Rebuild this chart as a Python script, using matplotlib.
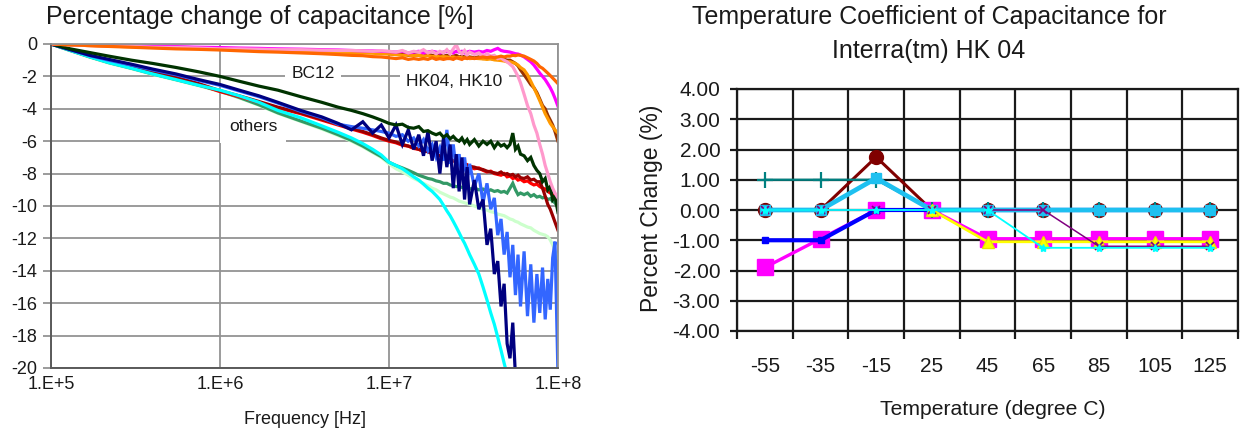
import numpy as np
import matplotlib
matplotlib.use("Agg")
import matplotlib.pyplot as plt
from matplotlib import font_manager as fm
from matplotlib.ticker import FixedLocator, NullLocator, FixedFormatter

nan = np.nan

# ---------------- left chart data ----------------
FREQ_HZ = [1e5, 1.3e5, 1.7e5, 2.2e5, 3e5, 4e5, 5.5e5, 7.5e5, 1e6, 1.3e6,
           1.7e6, 2.2e6, 3e6, 4e6, 5e6, 6e6, 7e6, 8e6, 9e6, 1e7,
           1.1e7, 1.2e7, 1.3e7, 1.4e7, 1.5e7, 1.6e7, 1.7e7, 1.8e7, 1.9e7, 2e7,
           2.1e7, 2.2e7, 2.3e7, 2.4e7, 2.5e7, 2.6e7, 2.7e7, 2.8e7, 2.9e7, 3e7,
           3.2e7, 3.4e7, 3.6e7, 3.8e7, 4e7, 4.2e7, 4.4e7, 4.6e7, 4.8e7, 5e7,
           5.2e7, 5.4e7, 5.6e7, 5.8e7, 6e7, 6.3e7, 6.6e7, 6.9e7, 7.2e7, 7.5e7,
           7.8e7, 8.1e7, 8.4e7, 8.7e7, 9e7, 9.3e7, 9.6e7, 1e8]

LIGHT_GREEN = [0, -0.42, -0.82, -1.18, -1.53, -1.88, -2.23, -2.58, -2.93, -3.33,
               -3.78, -4.28, -4.78, -5.25, -5.65, -6.0, -6.35, -6.7, -7.0, -7.4,
               -7.7, -7.9, -8.1, -8.3, -8.45, -8.6, -8.75, -8.9, -9.0, -9.15,
               -9.25, -9.35, -9.45, -9.5, -9.6, -9.7, -9.75, -9.8, -9.85, -9.9,
               -10.0, -10.1, -10.2, -10.25, -10.35, -10.4, -10.5, -10.55, -10.6, -10.7,
               -10.8, -10.85, -10.95, -11.0, -11.1, -11.2, -11.3, -11.35, -11.5, -11.6,
               -11.7, -11.75, -11.8, -11.9, -12.1, -12.4, -12.8, -13.2]

SEA_GREEN = [0, -0.4, -0.8, -1.15, -1.5, -1.85, -2.2, -2.55, -2.9, -3.3,
             -3.75, -4.25, -4.75, -5.2, -5.6, -5.95, -6.3, -6.65, -6.95, -7.3,
             -7.5, -7.65, -7.8, -7.95, -8.1, -8.2, -8.3, -8.35, -8.45, -8.5,
             -8.6, -8.6, -8.7, -8.75, -8.8, -8.8, -8.85, -8.9, -8.8, -8.95,
             -8.9, -9.0, -8.95, -9.1, -9.0, -9.1, -9.05, -9.15, -9.1, -9.2,
             -8.9, -8.6, -9.0, -9.3, -9.2, -9.3, -9.2, -9.4, -9.3, -9.45,
             -9.4, -9.5, -9.45, -9.6, -9.55, -9.7, -9.8, -10.1]

RED = [0, -0.38, -0.78, -1.1, -1.45, -1.75, -2.1, -2.5, -2.94, -3.25,
       -3.6, -3.95, -4.3, -4.7, -5.0, -5.25, -5.45, -5.65, -5.85, -6.0,
       -6.1, -6.25, -6.3, -6.45, -6.5, -6.65, -6.6, -6.8, -6.85, -6.9,
       -7.05, -7.0, -7.15, -7.2, -7.3, -7.25, -7.4, -7.5, -7.45, -7.6,
       -7.7, -7.65, -7.8, -7.9, -7.85, -8.0, -8.05, -8.1, -8.0, -8.2,
       -8.15, -8.3, -8.25, -8.4, -8.35, -8.5, -8.45, -8.6, -8.7, -8.65,
       -8.8, -8.9, -8.95, -9.1, -9.2, -9.3, -9.45, -9.6]

DARK_RED = [0, -0.36, -0.74, -1.05, -1.4, -1.7, -2.05, -2.45, -2.88, -3.2,
            -3.55, -3.9, -4.25, -4.65, -4.95, -5.2, -5.4, -5.6, -5.8, -5.95,
            -6.05, -6.2, -6.3, -6.4, -6.5, -6.6, -6.65, -6.75, -6.85, -6.9,
            -7.0, -7.1, -7.1, -7.2, -7.25, -7.3, -7.35, -7.4, -7.5, -7.55,
            -7.6, -7.7, -7.75, -7.85, -7.9, -7.95, -8.0, -7.9, -8.05, -8.0,
            -8.1, -8.05, -8.2, -8.1, -8.25, -8.3, -8.2, -8.4, -8.35, -8.5,
            -8.5, -8.9, -9.4, -9.9, -10.2, -10.6, -11.0, -11.5]

CYAN = [0, -0.4, -0.8, -1.15, -1.5, -1.85, -2.2, -2.55, -2.85, -3.2,
        -3.6, -4.1, -4.55, -5.05, -5.45, -5.8, -6.15, -6.5, -6.85, -7.3,
        -7.5, -7.7, -7.95, -8.2, -8.4, -8.65, -8.9, -9.1, -9.35, -9.6,
        -9.95, -10.3, -10.6, -10.95, -11.3, -11.65, -12.0, -12.3, -12.65, -13.0,
        -13.6, -14.2, -15.0, -15.8, -16.6, -17.3, -18.1, -18.9, -19.7, -20.4,
        nan, nan, nan, nan, nan, nan, nan, nan, nan, nan,
        nan, nan, nan, nan, nan, nan, nan, nan]

ROYAL_BLUE = [0, -0.35, -0.72, -1.0, -1.3, -1.6, -1.9, -2.25, -2.55, -2.9,
              -3.25, -3.65, -4.15, -4.55, -4.95, -5.1, -5.2, -5.3, -5.4, -5.5,
              -5.7, -5.6, -6.0, -5.8, -6.3, -5.9, -6.6, -6.2, -7.0, -6.4,
              -7.2, -5.3, -7.4, -6.2, -7.8, -6.8, -8.2, -7.0, -8.4, -7.4,
              -8.8, -8.0, -9.8, -8.6, -10.2, -9.5, -11.8, -10.8, -13.0, -11.6,
              -14.4, -12.4, -15.5, -13.0, -16.2, -12.8, -16.8, -13.6, -17.2, -14.2,
              -16.6, -13.8, -17.0, -14.5, -16.4, -13.2, -12.2, -20.5]

NAVY = [0, -0.35, -0.7, -0.95, -1.25, -1.55, -1.85, -2.2, -2.5, -2.85,
        -3.2, -3.6, -4.1, -4.5, -4.9, -5.3, -4.8, -5.5, -5.0, -5.8,
        -5.0, -6.2, -5.3, -6.5, -5.6, -6.9, -5.4, -7.2, -6.0, -8.0,
        -5.8, -7.6, -6.2, -8.9, -6.8, -9.1, -7.0, -9.6, -7.6, -9.9,
        -8.4, -10.2, -9.6, -12.4, -11.4, -14.2, -13.4, -16.2, -14.8, -18.5,
        -19.4, -17.2, -20.5, nan, nan, nan, nan, nan, nan, nan,
        nan, nan, nan, nan, nan, nan, nan, nan]

BC12 = [0, -0.3, -0.53, -0.75, -1.0, -1.2, -1.45, -1.72, -2.0, -2.3,
        -2.6, -2.85, -3.25, -3.6, -3.9, -4.1, -4.3, -4.5, -4.7, -4.9,
        -5.0, -4.95, -5.15, -5.2, -5.1, -5.4, -5.35, -5.5, -5.6, -5.5,
        -5.75, -5.6, -5.85, -5.7, -5.9, -6.0, -5.8, -6.1, -5.9, -6.2,
        -5.9, -6.3, -6.0, -6.2, -6.0, -6.4, -6.1, -6.3, -6.2, -6.4,
        -6.2, -5.5, -6.5, -6.3, -6.8, -6.9, -7.2, -7.0, -7.5, -7.8,
        -8.0, -8.5, -8.3, -9.0, -8.8, -9.6, -9.4, -10.4]

BROWN = [0, -0.05, -0.08, -0.12, -0.15, -0.18, -0.2, -0.23, -0.27, -0.3,
         -0.33, -0.36, -0.4, -0.42, -0.45, -0.48, -0.5, -0.52, -0.55, -0.6,
         -0.65, -0.6, -0.7, -0.65, -0.7, -0.75, -0.65, -0.7, -0.75, -0.7,
         -0.75, -0.7, -0.8, -0.75, -0.7, -0.8, -0.75, -0.8, -0.85, -0.8,
         -0.85, -0.8, -0.9, -0.85, -0.9, -0.95, -0.9, -1.0, -0.95, -1.0,
         -1.0, -1.1, -1.2, -1.35, -1.6, -1.9, -2.2, -2.5, -2.7, -3.0,
         -3.4, -3.8, -4.0, -4.4, -4.7, -5.0, -5.4, -6.0]

LIGHT_ORANGE = [0, -0.05, -0.1, -0.13, -0.17, -0.2, -0.23, -0.26, -0.3, -0.33,
                -0.36, -0.4, -0.43, -0.46, -0.5, -0.52, -0.55, -0.57, -0.6, -0.62,
                -0.65, -0.7, -0.68, -0.72, -0.7, -0.75, -0.72, -0.78, -0.75, -0.8,
                -0.78, -0.8, -0.82, -0.8, -0.85, -0.82, -0.85, -0.88, -0.85, -0.9,
                -0.88, -0.9, -0.92, -0.95, -0.92, -0.98, -1.0, -1.02, -1.05, -1.1,
                -1.1, -1.15, -1.2, -1.3, -1.45, -1.6, -1.9, -2.3, -2.7, -3.1,
                -3.5, -3.9, -4.3, -4.6, -4.9, -5.1, -5.3, -5.5]

MAGENTA = [0, -0.03, -0.07, -0.1, -0.12, -0.15, -0.17, -0.2, -0.22, -0.25,
           -0.27, -0.3, -0.32, -0.35, -0.37, -0.4, -0.42, -0.43, -0.45, -0.47,
           -0.5, -0.45, -0.55, -0.5, -0.45, -0.55, -0.5, -0.45, -0.5, -0.55,
           -0.5, -0.45, -0.5, -0.55, -0.45, -0.5, -0.45, -0.55, -0.5, -0.45,
           -0.5, -0.45, -0.5, -0.4, -0.45, -0.35, -0.27, -0.4, -0.45, -0.47,
           -0.5, -0.55, -0.6, -0.62, -0.68, -0.8, -0.95, -1.1, -1.3, -1.55,
           -1.8, -2.0, -2.2, -2.45, -2.7, -3.0, -3.35, -3.85]

PINK = [0, -0.05, -0.1, -0.12, -0.15, -0.2, -0.22, -0.25, -0.3, -0.3,
        -0.32, -0.35, -0.35, -0.38, -0.4, -0.4, -0.42, -0.45, -0.42, -0.45,
        -0.5, -0.4, -0.55, -0.45, -0.5, -0.35, -0.55, -0.45, -0.6, -0.45,
        -0.55, -0.35, -0.6, -0.3, -0.05, -0.45, -0.6, -0.4, -0.65, -0.5,
        -0.65, -0.55, -0.75, -0.6, -0.75, -0.7, -0.9, -0.85, -1.0, -1.1,
        -1.25, -1.4, -1.7, -2.0, -2.4, -3.1, -3.8, -4.3, -5.0, -5.5,
        -6.2, -6.8, -7.5, -8.0, -8.5, -8.9, -9.2, -9.5]

ORANGE = [0, -0.05, -0.1, -0.15, -0.2, -0.25, -0.3, -0.33, -0.37, -0.42,
          -0.47, -0.5, -0.55, -0.6, -0.65, -0.7, -0.72, -0.78, -0.8, -0.85,
          -0.9, -0.85, -0.95, -0.9, -0.95, -0.9, -0.95, -0.85, -0.95, -0.9,
          -0.95, -0.9, -0.9, -0.95, -0.85, -0.9, -0.95, -0.85, -0.9, -0.85,
          -0.9, -0.85, -0.8, -0.85, -0.8, -0.85, -0.8, -0.75, -0.8, -0.75,
          -0.75, -0.7, -0.72, -0.68, -0.7, -0.75, -0.85, -0.95, -1.05, -1.2,
          -1.4, -1.5, -1.65, -1.8, -1.95, -2.1, -2.25, -2.45]

LEFT_YTICKS = [0, -2, -4, -6, -8, -10, -12, -14, -16, -18, -20]
LEFT_XTICKS = [1e5, 1e6, 1e7, 1e8]
LEFT_XTICK_LABELS = ["1.E+5", "1.E+6", "1.E+7", "1.E+8"]

# ---------------- right chart data ----------------
TEMPS = ["-55", "-35", "-15", "25", "45", "65", "85", "105", "125"]
TC_DARKRED = [0, 0, 1.75, 0, 0, 0, 0, 0, 0]
TC_MAGENTA = [-1.9, -0.95, 0, 0, -0.95, -0.95, -0.95, -0.95, -0.95]
TC_BLUE = [-1.0, -1.0, 0, 0, 0, 0, 0, 0, 0]
TC_TEAL = [1.0, 1.0, 1.0, 0, 0, 0, 0, 0, 0]
TC_SKY = [0, 0, 1.05, 0, 0, 0, 0, 0, 0]
TC_YELLOW = [nan, nan, nan, 0, -1.05, -1.05, -1.05, -1.05, -1.05]
TC_PURPLE = [0, 0, 0, 0, 0, 0, -1.2, -1.2, -1.2]
TC_CYAN = [0, 0, 0, 0, 0, -1.25, -1.25, -1.25, -1.25]
RIGHT_YTICKS = [4, 3, 2, 1, 0, -1, -2, -3, -4]

# ---------------- fonts ----------------
avail = {f.name for f in fm.fontManager.ttflist}
SANS = "Liberation Sans" if "Liberation Sans" in avail else "DejaVu Sans"
plt.rcParams["font.family"] = [SANS, "DejaVu Sans"]
TXT = "#1a1a1a"

W, H = 1241, 430
fig = plt.figure(figsize=(W / 100, H / 100), dpi=100)
fig.patch.set_facecolor("white")

# ================= LEFT CHART =================
axL = fig.add_axes([51 / W, 1 - 368 / H, 507 / W, 324 / H])
left_series = [
    (LIGHT_GREEN, "#CCFFCC"), (SEA_GREEN, "#339966"), (RED, "#FF0000"),
    (DARK_RED, "#990000"), (CYAN, "#00FFFF"), (ROYAL_BLUE, "#3366FF"),
    (NAVY, "#000080"), (BC12, "#003300"), (BROWN, "#993300"),
    (LIGHT_ORANGE, "#FF9900"), (MAGENTA, "#FF00FF"), (PINK, "#FF99CC"),
    (ORANGE, "#FF6600"),
]
for vals, col in left_series:
    axL.plot(FREQ_HZ, vals, color=col, lw=2.3, solid_joinstyle="miter", zorder=2)
axL.set_xscale("log")
axL.set_xlim(FREQ_HZ[0], FREQ_HZ[-1])
axL.set_ylim(LEFT_YTICKS[-1], LEFT_YTICKS[0])
axL.xaxis.set_major_locator(FixedLocator(LEFT_XTICKS))
axL.xaxis.set_major_formatter(FixedFormatter(LEFT_XTICK_LABELS))
axL.xaxis.set_minor_locator(NullLocator())
axL.yaxis.set_major_locator(FixedLocator(LEFT_YTICKS))
axL.yaxis.set_major_formatter(FixedFormatter([str(v) for v in LEFT_YTICKS]))
axL.grid(True, color="#939393", lw=1.3)
axL.set_axisbelow(True)
axL.tick_params(axis="y", length=6, width=1.3, color="#939393", pad=4,
                labelsize=13, labelcolor=TXT)
axL.tick_params(axis="x", length=0, pad=6, labelsize=13, labelcolor=TXT)
for s in ("top", "right"):
    axL.spines[s].set_color("#939393")
    axL.spines[s].set_linewidth(1.3)
for s in ("left", "bottom"):
    axL.spines[s].set_color("#5a5a5a")
    axL.spines[s].set_linewidth(1.4)
axL.set_xlabel("Frequency [Hz]", fontsize=13, color=TXT, labelpad=13)
fig.text(46 / W, 1 - 17 / H, "Percentage change of capacitance [%]",
         fontsize=18, color=TXT, ha="left", va="center")

# labels sit above the gridlines but beneath the curves
axL.text(3.57e6, -1.81, "BC12", fontsize=12.5, color=TXT, ha="center",
         va="center", bbox=dict(facecolor="white", edgecolor="none", pad=4.5),
         zorder=1)
axL.text(2.43e7, -2.33, "HK04, HK10", fontsize=12.5, color=TXT, ha="center",
         va="center", bbox=dict(facecolor="white", edgecolor="none", pad=4.5),
         zorder=1)
axL.text(1.57e6, -5.1, "others", fontsize=12.5, color=TXT, ha="center",
         va="center", bbox=dict(facecolor="white", edgecolor="none", pad=6.5),
         zorder=1)

# ================= RIGHT CHART =================
axR = fig.add_axes([737 / W, 1 - 331 / H, 501 / W, 242 / H])
xs = np.arange(len(TEMPS))
axR.plot(xs, TC_DARKRED, color="#800000", lw=2.2, marker="o", ms=10, zorder=3)
axR.plot(xs, TC_MAGENTA, color="#FF00FF", lw=2.4, marker="s", ms=11.5, zorder=3)
axR.plot(xs, TC_BLUE, color="#0000FF", lw=3.0, marker="s", ms=4.5, zorder=4)
axR.plot(xs, TC_TEAL, color="#008080", lw=1.6, marker="+", ms=11, mew=1.6, zorder=4)
axR.plot(xs, TC_SKY, color="#1EC0F0", lw=3.4, marker="s", ms=6.5, zorder=5)
axR.plot(xs, TC_YELLOW, color="#FFFF00", lw=2.0, marker="^", ms=8,
         mec="#E6E600", zorder=6)
axR.plot(xs, TC_PURPLE, color="#800080", lw=1.1, marker="x", ms=6, mew=1.2, zorder=6)
axR.plot(xs, TC_CYAN, color="#00FFFF", lw=1.3, marker="*", ms=6, zorder=6)

axR.set_xlim(-0.5, len(TEMPS) - 0.5)
axR.set_ylim(RIGHT_YTICKS[-1], RIGHT_YTICKS[0])
axR.xaxis.set_major_locator(FixedLocator(np.arange(len(TEMPS) + 1) - 0.5))
axR.xaxis.set_major_formatter(FixedFormatter([""] * (len(TEMPS) + 1)))
axR.xaxis.set_minor_locator(FixedLocator(xs))
axR.xaxis.set_minor_formatter(FixedFormatter(TEMPS))
axR.yaxis.set_major_locator(FixedLocator(RIGHT_YTICKS))
axR.yaxis.set_major_formatter(FixedFormatter([f"{v:.2f}" for v in RIGHT_YTICKS]))
axR.grid(True, which="major", color="#1a1a1a", lw=1.6)
axR.set_axisbelow(True)
axR.tick_params(axis="x", which="major", direction="out", length=6, width=1.6,
                color="#1a1a1a")
axR.tick_params(axis="x", which="minor", length=0, pad=19,
                labelsize=15, labelcolor=TXT)
axR.tick_params(axis="y", direction="out", length=5, width=1.6, color="#1a1a1a",
                pad=7, labelsize=15, labelcolor=TXT)
for s in axR.spines.values():
    s.set_color("#1a1a1a")
    s.set_linewidth(1.6)
axR.set_ylabel("Percent Change (%)", fontsize=16.5, color=TXT)
axR.yaxis.set_label_coords(-0.147, 0.505)
axR.set_xlabel("Temperature (degree C)", fontsize=15.2, color=TXT)
axR.xaxis.set_label_coords(0.51, -0.285)

fig.text(929 / W, 1 - 17 / H, "Temperature Coefficient of Capacitance for",
         fontsize=18, color=TXT, ha="center", va="center")
fig.text(929 / W, 1 - 51 / H, "Interra(tm) HK 04",
         fontsize=18, color=TXT, ha="center", va="center")

fig.savefig("out.png", dpi=100, facecolor="white")
